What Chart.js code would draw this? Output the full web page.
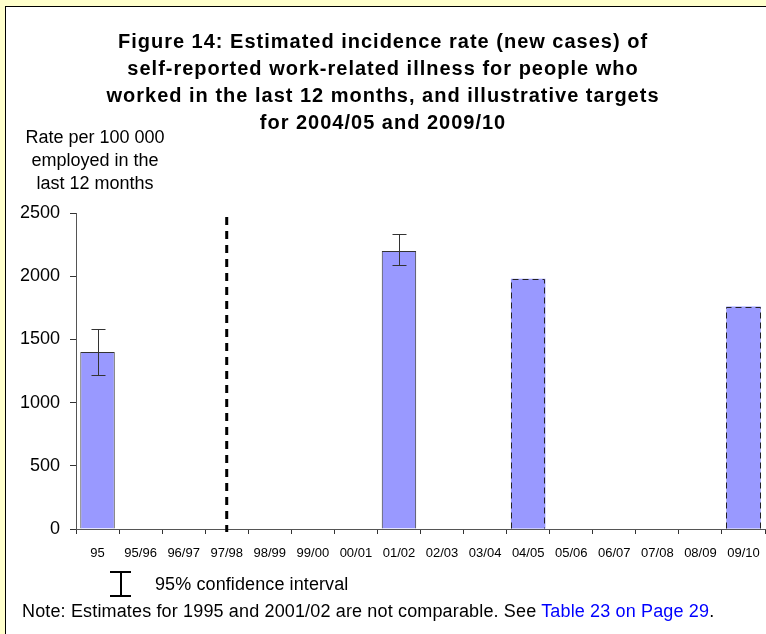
<!DOCTYPE html>
<html>
<head>
<meta charset="utf-8">
<script src="https://cdn.jsdelivr.net/npm/chart.js@4/dist/chart.umd.min.js"></script>
<style>
    body {
        margin: 0;
        width: 766px;
        height: 634px;
        background: #ffffcc;
        overflow: hidden;
        position: relative;
        font-family: "Liberation Sans", Arial, sans-serif;
    }

    .frame {
        position: absolute;
        left: 5px;
        top: 6px;
        width: 800px;
        height: 700px;
        background: #fff;
        border: 1px solid #000;
    }

    #chart {
        position: absolute;
        left: 0;
        top: 0;
    }

    .title {
        position: absolute;
        left: 0;
        top: 28px;
        width: 766px;
        text-align: center;
        font-weight: bold;
        font-size: 20px;
        line-height: 27px;
        letter-spacing: 1px;
        color: #000;
    }

    .y-label {
        position: absolute;
        left: 10px;
        top: 126px;
        width: 170px;
        text-align: center;
        font-size: 18px;
        line-height: 23px;
        color: #000;
    }

    .ci-glyph {
        position: absolute;
        left: 110px;
        top: 571px;
        width: 21px;
        height: 26px;
    }

    .ci-glyph div {
        position: absolute;
        background: #000;
    }

    .legend-text {
        position: absolute;
        left: 155px;
        top: 575px;
        font-size: 18px;
        line-height: 18px;
        letter-spacing: 0.1px;
        color: #000;
    }

    .note {
        position: absolute;
        left: 22px;
        top: 602px;
        font-size: 18px;
        line-height: 18px;
        letter-spacing: 0.15px;
        color: #000;
        white-space: nowrap;
    }

    .note span {
        color: #0000ff;
    }
</style>
</head>
<body>
    <div class="frame"></div>
    <canvas id="chart" width="766" height="634"></canvas>

    <div class="title">
        Figure 14: Estimated incidence rate (new cases) of<br>
        self-reported work-related illness for people who<br>
        worked in the last 12 months, and illustrative targets<br>
        for 2004/05 and 2009/10
    </div>
    <div class="y-label">Rate per 100 000<br>employed in the<br>last 12 months</div>

    <div class="ci-glyph">
        <div style="left:0; top:0; width:21px; height:2px;"></div>
        <div style="left:10px; top:0; width:2px; height:26px;"></div>
        <div style="left:0; top:24px; width:21px; height:2px;"></div>
    </div>
    <div class="legend-text">95% confidence interval</div>
    <div class="note">Note: Estimates for 1995 and 2001/02 are not comparable. See <span>Table 23 on Page 29</span>.</div>

<script>
// data ---------------------------------------------------------------
let years = ['95', '95/96', '96/97', '97/98', '98/99', '99/00', '00/01', '01/02',
    '02/03', '03/04', '04/05', '05/06', '06/07', '07/08', '08/09', '09/10'];

let estimates = [1400, null, null, null, null, null, null, 2200,
    null, null, null, null, null, null, null, null];

let targets = [null, null, null, null, null, null, null, null,
    null, null, 1980, null, null, null, null, 1760];

let ciLow = [1220, null, null, null, null, null, null, 2090,
    null, null, null, null, null, null, null, null];

let ciHigh = [1580, null, null, null, null, null, null, 2330,
    null, null, null, null, null, null, null, null];

let yTicks = [0, 500, 1000, 1500, 2000, 2500];

// the year where the series breaks (not comparable)
let breakYear = '97/98';
// data END ============================================================


// extra drawing: error bars, dashed target outlines, break line --------
let extrasPlugin = {
    id: 'extras',
    afterDatasetsDraw(chart) {
        let ctx = chart.ctx;
        let x = chart.scales.x;
        let y = chart.scales.y;
        let area = chart.chartArea;

        ctx.save();

        // error bars
        ctx.strokeStyle = '#333';
        ctx.lineWidth = 1;
        for (let i = 0; i < years.length; i++) {
            if (ciLow[i] == null) continue;
            let cx = Math.round(x.getPixelForValue(i)) + 0.5;
            let top = Math.round(y.getPixelForValue(ciHigh[i])) + 0.5;
            let bottom = Math.round(y.getPixelForValue(ciLow[i])) + 0.5;
            ctx.beginPath();
            ctx.moveTo(cx, top);
            ctx.lineTo(cx, bottom);
            ctx.moveTo(cx - 7, top);
            ctx.lineTo(cx + 7, top);
            ctx.moveTo(cx - 7, bottom);
            ctx.lineTo(cx + 7, bottom);
            ctx.stroke();
        }

        // dashed outline round the target bars
        let meta = chart.getDatasetMeta(1);
        ctx.setLineDash([6, 4]);
        ctx.strokeStyle = '#222';
        meta.data.forEach(function (bar, i) {
            if (targets[i] == null) return;
            let p = bar.getProps(['x', 'y', 'base', 'width'], true);
            let left = Math.round(p.x - p.width / 2) + 0.5;
            let right = Math.round(p.x + p.width / 2) - 0.5;
            let top = Math.round(p.y) + 0.5;
            ctx.beginPath();
            ctx.moveTo(left, p.base);
            ctx.lineTo(left, top);
            ctx.lineTo(right, top);
            ctx.lineTo(right, p.base);
            ctx.stroke();
        });

        // break line
        let bx = x.getPixelForValue(years.indexOf(breakYear));
        ctx.setLineDash([8, 6]);
        ctx.strokeStyle = '#000';
        ctx.lineWidth = 3;
        ctx.beginPath();
        ctx.moveTo(bx, area.top + 4);
        ctx.lineTo(bx, area.bottom + 3);
        ctx.stroke();

        ctx.restore();
    }
};


// chart ---------------------------------------------------------------
function loadChart() {
    let ctx = document.getElementById('chart').getContext('2d');

    new Chart(ctx, {
        type: 'bar',
        data: {
            labels: years,
            datasets: [{
                label: 'Estimate',
                data: estimates,
                backgroundColor: '#9999ff',
                borderColor: '#333',
                borderWidth: 1,
                grouped: false,
                categoryPercentage: 0.8,
                barPercentage: 1
            }, {
                label: 'Target',
                data: targets,
                backgroundColor: '#9999ff',
                borderWidth: 0,
                grouped: false,
                categoryPercentage: 0.8,
                barPercentage: 1
            }]
        },
        options: {
            responsive: false,
            animation: false,
            devicePixelRatio: 1,
            layout: {
                padding: { top: 213, left: 0, right: 1, bottom: 0 }
            },
            plugins: {
                legend: { display: false },
                tooltip: { enabled: false }
            },
            scales: {
                x: {
                    afterFit(scale) {
                        scale.height = 105;
                        scale.paddingLeft = 0;
                        scale.paddingRight = 0;
                    },
                    grid: {
                        drawOnChartArea: false,
                        color: '#333',
                        tickLength: 5
                    },
                    border: { color: '#555', width: 1 },
                    ticks: {
                        color: '#000',
                        padding: 12,
                        maxRotation: 0,
                        autoSkip: false,
                        font: { family: 'Liberation Sans', size: 13 }
                    }
                },
                y: {
                    min: 0,
                    max: 2500,
                    afterFit(scale) {
                        scale.width = 76;
                        scale.paddingTop = 0;
                        scale.paddingBottom = 0;
                    },
                    afterBuildTicks(scale) {
                        scale.ticks = yTicks.map(function (v) { return { value: v }; });
                    },
                    grid: {
                        drawOnChartArea: false,
                        color: '#333',
                        tickLength: 6
                    },
                    border: { color: '#555', width: 1 },
                    ticks: {
                        color: '#000',
                        padding: 10,
                        font: { family: 'Liberation Sans', size: 18 },
                        callback: function (value) { return String(value); }
                    }
                }
            }
        },
        plugins: [extrasPlugin]
    });
}

loadChart();
// chart END ============================================================
</script>
</body>
</html>
